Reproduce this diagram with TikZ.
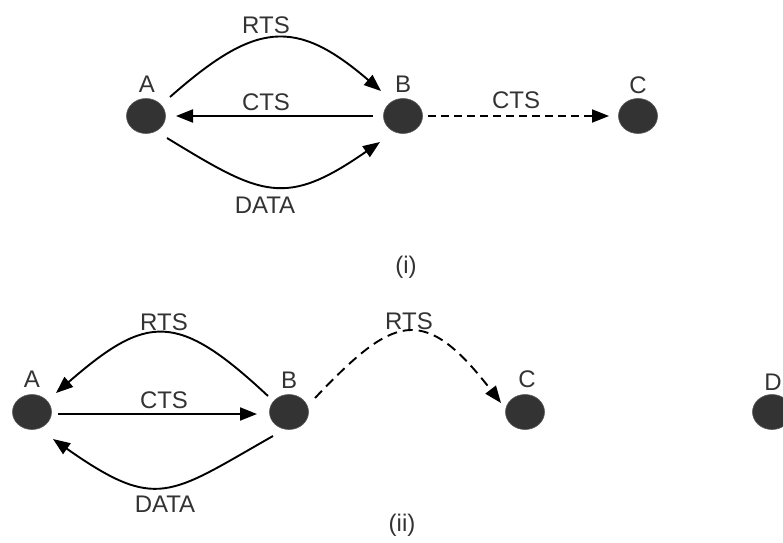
\documentclass[tikz,border=0pt]{standalone}
\usepackage{fontspec}
\setmainfont{Liberation Sans}
\usetikzlibrary{shapes.geometric,arrows.meta,calc}
\definecolor{nodegray}{HTML}{333333}
\definecolor{txtgray}{HTML}{333333}
\tikzset{
  station/.style={ellipse, fill=nodegray, draw=gray!70!black, line width=0.6pt,
    minimum width=39pt, minimum height=35pt, inner sep=0pt},
  lbl/.style={text=txtgray, font=\fontsize{24}{28}\selectfont, inner sep=0pt, anchor=base},
  link/.style={line width=1.9pt, -{Triangle[length=17pt,width=13pt]}},
  dlinkA/.style={link, dash pattern=on 8pt off 5pt},
  dlinkB/.style={link, dash pattern=on 10pt off 6pt},
}
\begin{document}
\begin{tikzpicture}[x=1pt,y=-1pt]
\useasboundingbox (0,0) rectangle (783,542);
% ---------- (i) ----------
\node[station] (A1) at (146,116) {};
\node[station] (B1) at (403,116) {};
\node[station] (C1) at (638,116) {};
\node[lbl] (lA1) at (147,92) {A};
\node[lbl] (lB1) at (403,92) {B};
\node[lbl] (lC1) at (638,93) {C};
% RTS A->B
\draw[link] ($(A1)+(24,-19)$) .. controls (255,22) and (295,17) .. ($(B1)+(-22,-25)$);
% CTS B->A
\draw[link] ($(B1)+(-30,0)$) -- ($(A1)+(30,0)$);
% DATA A->B
\draw[link] ($(A1)+(21,22)$) .. controls (262,196) and (285,208) .. ($(B1)+(-23,26)$);
% CTS B->C dashed
\draw[dlinkA] ($(B1)+(25,0)$) -- ($(C1)+(-29,0)$);
\node[lbl] (t1) at (266,33) {RTS};
\node[lbl] (t2) at (266,110) {CTS};
\node[lbl] (t3) at (265,213) {DATA};
\node[lbl] (t4) at (516,108) {CTS};
\node[lbl] (cap1) at (406,273) {(i)};
% ---------- (ii) ----------
\node[station] (A2) at (32,412) {};
\node[station] (B2) at (289,412) {};
\node[station] (C2) at (525,412) {};
\node[station] (D2) at (772,412) {};
\node[lbl] (lA2) at (32,387) {A};
\node[lbl] (lB2) at (289,388) {B};
\node[lbl] (lC2) at (527,387) {C};
\node[lbl] (lD2) at (773,390) {D};
% RTS B->A
\draw[link] ($(B2)+(-21,-16)$) .. controls (177,311) and (147,314) .. ($(A2)+(24,-19)$);
% CTS A->B
\draw[link] ($(A2)+(26,2)$) -- ($(B2)+(-32,2)$);
% DATA B->A
\draw[link] ($(B2)+(-16,24)$) .. controls (169,495) and (157,512) .. ($(A2)+(21,27)$);
% RTS B->C dashed
\draw[dlinkB] ($(B2)+(26,-14)$) .. controls (393,316) and (423,302) .. ($(C2)+(-24,-9)$);
\node[lbl] (s1) at (164,330) {RTS};
\node[lbl] (s2) at (164,408) {CTS};
\node[lbl] (s3) at (165,512) {DATA};
\node[lbl] (s4) at (409,329) {RTS};
\node[lbl] (cap2) at (402,531) {(ii)};
\end{tikzpicture}
\end{document}
